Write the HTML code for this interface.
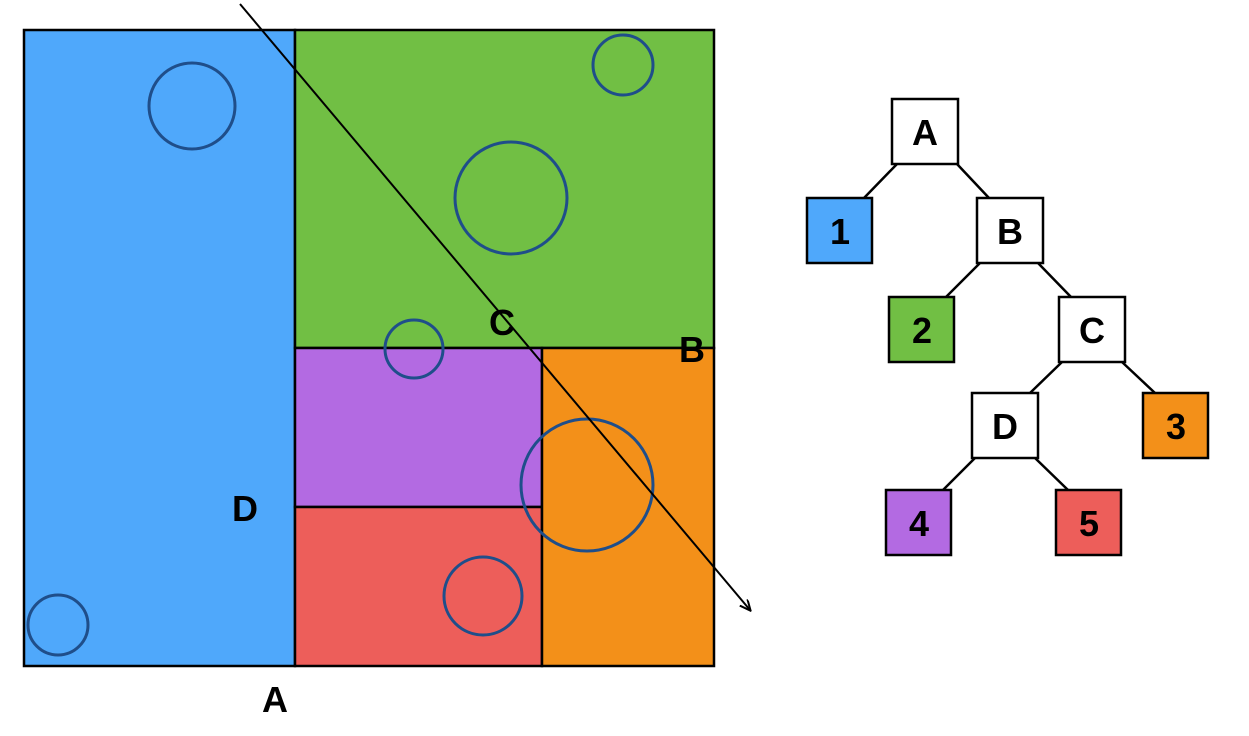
<!DOCTYPE html>
<html><head><meta charset="utf-8"><style>
html,body{margin:0;padding:0;background:#fff;}
svg{display:block;}
text{font-family:"Liberation Sans",sans-serif;font-weight:bold;}
</style></head><body>
<svg width="1249" height="736" viewBox="0 0 1249 736" xmlns="http://www.w3.org/2000/svg">
<defs><marker id="ar" markerWidth="12" markerHeight="12" refX="10" refY="5" orient="auto" markerUnits="userSpaceOnUse"><path d="M0,0 L11,5 L0,10" fill="none" stroke="#000" stroke-width="2"/></marker></defs>
<g stroke="#000" stroke-width="2.5">
<rect x="24" y="30" width="271" height="636" fill="#4fa8fb"/>
<rect x="295" y="30" width="419" height="318" fill="#71bf44"/>
<rect x="295" y="348" width="247" height="159" fill="#b36ae2"/>
<rect x="295" y="507" width="247" height="159" fill="#ed5e5a"/>
<rect x="542" y="348" width="172" height="318" fill="#f39019"/>
</g>
<g fill="none" stroke="#1f4e8a" stroke-width="3">
<circle cx="192" cy="106" r="43"/>
<circle cx="623" cy="65" r="30"/>
<circle cx="511" cy="198" r="56"/>
<circle cx="414" cy="349" r="29"/>
<circle cx="587" cy="485" r="66"/>
<circle cx="483" cy="596" r="39"/>
<circle cx="58" cy="625" r="30"/>
</g>
<line x1="240" y1="4" x2="750" y2="610" stroke="#000" stroke-width="2" marker-end="url(#ar)"/>
<g font-size="36" text-anchor="middle" fill="#000">
<text x="502" y="335">C</text>
<text x="692" y="362">B</text>
<text x="245" y="521">D</text>
<text x="275" y="712">A</text>
</g>
<g stroke="#000" stroke-width="2.5">
<line x1="897" y1="164" x2="864" y2="198"/>
<line x1="957" y1="164" x2="989" y2="198"/>
<line x1="980" y1="263" x2="946" y2="297"/>
<line x1="1038" y1="263" x2="1071" y2="297"/>
<line x1="1062" y1="362" x2="1030" y2="393"/>
<line x1="1122" y1="362" x2="1155" y2="393"/>
<line x1="975" y1="458" x2="943" y2="490"/>
<line x1="1035" y1="458" x2="1068" y2="490"/>
</g>
<g stroke="#000" stroke-width="2.5">
<rect x="892" y="99" width="66" height="65" fill="#fff"/>
<rect x="807" y="198" width="65" height="65" fill="#4fa8fb"/>
<rect x="977" y="198" width="66" height="65" fill="#fff"/>
<rect x="889" y="297" width="65" height="65" fill="#71bf44"/>
<rect x="1059" y="297" width="66" height="65" fill="#fff"/>
<rect x="972" y="393" width="66" height="65" fill="#fff"/>
<rect x="1143" y="393" width="65" height="65" fill="#f39019"/>
<rect x="886" y="490" width="65" height="65" fill="#b36ae2"/>
<rect x="1056" y="490" width="65" height="65" fill="#ed5e5a"/>
</g>
<g font-size="36" text-anchor="middle" fill="#000">
<text x="925" y="145">A</text>
<text x="840" y="244">1</text>
<text x="1010" y="244">B</text>
<text x="922" y="343">2</text>
<text x="1092" y="343">C</text>
<text x="1005" y="439">D</text>
<text x="1176" y="439">3</text>
<text x="919" y="536">4</text>
<text x="1089" y="536">5</text>
</g>
</svg>
</body></html>
